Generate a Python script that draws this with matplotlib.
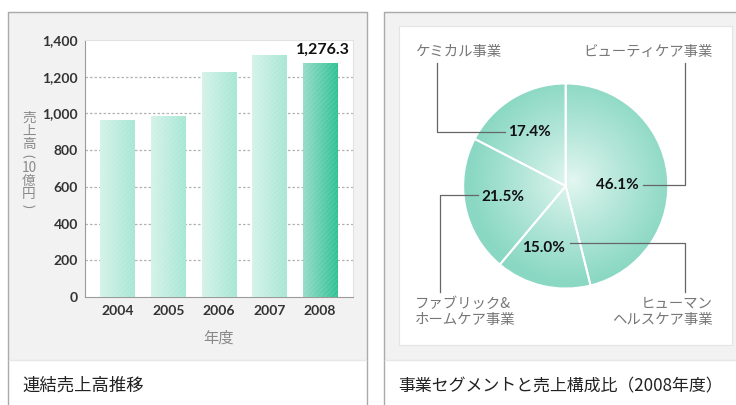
import numpy as np
import matplotlib
matplotlib.use("Agg")
import matplotlib.pyplot as plt
from matplotlib.patches import Rectangle, Circle
from matplotlib.colors import to_rgb

plt.rcParams["font.family"] = ["Noto Sans CJK JP", "DejaVu Sans"]

# --- data ---
years = ["2004", "2005", "2006", "2007", "2008"]
sales = [966, 987, 1223, 1318, 1276.3]
sales_label = "1,276.3"
yticks = [0, 200, 400, 600, 800, 1000, 1200, 1400]

segments = ["ビューティケア事業", "ヒューマン\nヘルスケア事業", "ファブリック&\nホームケア事業", "ケミカル事業"]
shares = [46.1, 15.0, 21.5, 17.4]

W, H = 736, 405
NUM = ["Lato", "DejaVu Sans"]
JP = ["Noto Sans CJK JP", "DejaVu Sans"]

fig = plt.figure(figsize=(W / 100, H / 100), dpi=100)

# background axes in pixel coords
bg = fig.add_axes([0, 0, 1, 1], zorder=0)
bg.set_xlim(0, W)
bg.set_ylim(H, 0)
bg.axis("off")

# left panel
bg.add_patch(Rectangle((8, 12), 359, 348, facecolor="#f2f2f2", edgecolor="none"))
bg.plot([8, 8, 367, 367], [405, 12, 12, 405], color="#aaaaaa", lw=1)
bg.plot([9, 366], [360, 360], color="#e6e6e6", lw=1)
# right panel
bg.add_patch(Rectangle((384, 12), 360, 348, facecolor="#f2f2f2", edgecolor="none"))
bg.plot([384, 384, 740], [405, 12, 12], color="#aaaaaa", lw=1)
bg.plot([385, 740], [360, 360], color="#e6e6e6", lw=1)
bg.add_patch(Rectangle((399, 26), 333, 319, facecolor="white", edgecolor="#e4e4e4", lw=0.8))

bg.text(22, 386, "連結売上高推移", fontsize=12.5, color="#222222", family=JP, va="center")
bg.text(398, 386, "事業セグメントと売上構成比（2008年度）", fontsize=12.2, color="#222222",
        family=JP, va="center")

# y label, stacked vertically (parentheses turned sideways)
ylab_chars = ["売", "上", "高", "(", "10", "億", "円", ")"]
ylab_y = [118, 131, 144, 156, 168, 181, 194, 206]
for ch, yy in zip(ylab_chars, ylab_y):
    if ch in "()":
        bg.text(29, yy, ch, fontsize=10, color="#8a8a8a", family=NUM, rotation=-90,
                rotation_mode="anchor", ha="center", va="center_baseline")
    else:
        bg.text(29, yy, ch, fontsize=9.8, color="#8a8a8a", family=JP,
                ha="center", va="center")
bg.text(218, 338, "年度", fontsize=11, color="#8a8a8a", family=JP, ha="center", va="center")

# --- bar chart ---
ax_l, ax_b, ax_w, ax_h = 85, 297, 268, 257
ax = fig.add_axes([ax_l / W, (H - ax_b) / H, ax_w / W, ax_h / H], zorder=2)
ax.set_facecolor("white")
x = np.arange(len(years))
xlim = (-0.65, 4.65)
ylim = (0, 1400)
bw = 0.69
bars = ax.bar(x, sales, width=bw, color="none", edgecolor="none", zorder=3)

px_x = ax_w / (xlim[1] - xlim[0])
px_y = ax_h / (ylim[1] - ylim[0])
light = [("#d3f2e8", "#a6e6d3")] * 4 + [("#92dbc7", "#2ec192")]
for i, (b, v) in enumerate(zip(bars, sales)):
    wpx = max(int(round(bw * px_x)), 2)
    hpx = max(int(round(v * px_y)), 2)
    cols, rows = np.meshgrid(np.arange(wpx), np.arange(hpx))
    t = (cols / (wpx - 1))[..., None]
    c0, c1 = np.array(to_rgb(light[i][0])), np.array(to_rgb(light[i][1]))
    img = c0 * (1 - t) + c1 * t
    stripe = 0.5 + 0.5 * np.sin(2 * np.pi * (cols - rows) / 5.0)
    img = img + (1 - img) * (0.10 * stripe[..., None])
    im = ax.imshow(img, extent=(x[i] - bw / 2, x[i] + bw / 2, 0, v), origin="lower",
                   aspect="auto", interpolation="bilinear", zorder=3)
    im.set_clip_path(b)

ax.set_xlim(*xlim)
ax.set_ylim(*ylim)
ax.set_yticks(yticks)
ax.set_yticklabels([f"{t:,}" for t in yticks])
ax.set_xticks(x)
ax.set_xticklabels(years)
ax.tick_params(length=0, labelsize=10, labelcolor="#333333")
ax.tick_params(axis="y", pad=5)
ax.tick_params(axis="x", pad=6)
for lab in ax.get_xticklabels() + ax.get_yticklabels():
    lab.set_family(NUM)
    lab.set_fontweight("bold")
for t in yticks[1:-1]:
    ax.axhline(t, color="#b3b3b3", lw=0.9, ls=(0, (2, 1.6)), zorder=1)
for side in ["top", "right"]:
    ax.spines[side].set_color("#e2e2e2")
for side in ["left", "bottom"]:
    ax.spines[side].set_color("#9a9a9a")
ax.text(x[-1] + 0.05, sales[-1] + 32, sales_label, fontsize=11.5, fontweight="bold",
        family=NUM, color="#111111", ha="center", va="bottom", zorder=4)

# --- pie chart ---
cx, cy, r = 565.7, 186, 102.5
pax = fig.add_axes([(cx - r) / W, (H - cy - r) / H, 2 * r / W, 2 * r / H], zorder=2)
pax.set_xlim(-1, 1)
pax.set_ylim(-1, 1)
pax.axis("off")
n = 300
gx, gy = np.meshgrid(np.linspace(-1, 1, n), np.linspace(-1, 1, n))
rr = np.clip(np.hypot(gx - 0.07, gy - 0.05) / 1.0, 0, 1)[..., None]
inner = np.array(to_rgb("#e4f7f1"))
outer = np.array(to_rgb("#8ad8c3"))
w = rr ** 0.9
pimg = inner * (1 - w) + outer * w
pim = pax.imshow(pimg, extent=(-1, 1, -1, 1), origin="lower", interpolation="bilinear", zorder=1)
clip = Circle((0, 0), 1, transform=pax.transData, facecolor="none", edgecolor="none")
pax.add_patch(clip)
pim.set_clip_path(clip)
pax.pie(shares, startangle=90, counterclock=False, radius=1, colors=["none"] * 4,
        wedgeprops=dict(edgecolor="white", linewidth=1.4, zorder=2))
pax.set_xlim(-1, 1)
pax.set_ylim(-1, 1)

pct_pos = [(0.50, 0.01), (-0.22, -0.60), (-0.61, -0.11), (-0.35, 0.53)]
for s, (px, py) in zip(shares, pct_pos):
    pax.text(px, py, f"{s:.1f}%", fontsize=11, fontweight="bold", family=NUM,
             color="#111111", ha="center", va="center", zorder=4)

# leader lines (pixel coords on top axes)
top = fig.add_axes([0, 0, 1, 1], zorder=5)
top.set_xlim(0, W)
top.set_ylim(H, 0)
top.axis("off")
lc = dict(color="#666666", lw=0.9)
top.plot([643, 685, 685], [185, 185, 63], **lc)
top.plot([570, 685, 685], [242.7, 242.7, 292], **lc)
top.plot([478, 440, 440], [195, 195, 292], **lc)
top.plot([505, 437, 437], [131.7, 131.7, 63], **lc)

lab_kw = dict(fontsize=10.4, color="#777777", family=JP, va="center", linespacing=1.2)
top.text(713, 52, segments[0], ha="right", **lab_kw)
top.text(713, 312, segments[1], ha="right", **lab_kw)
top.text(415, 312, segments[2], ha="left", **lab_kw)
top.text(415, 52, segments[3], ha="left", **lab_kw)

fig.savefig("out.png", dpi=100)
